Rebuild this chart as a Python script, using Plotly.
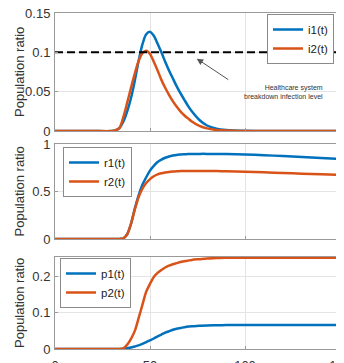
import plotly.graph_objects as go
from plotly.subplots import make_subplots

t = [0, 10, 20, 30, 32, 34, 36, 38, 40, 42, 44, 46, 48, 50, 52, 54, 56, 58, 60,
     62, 64, 66, 68, 70, 72, 76, 80, 85, 90, 100, 110, 120, 130, 140, 150]

i1 = [0, 0, 0, 0, 0.001, 0.004, 0.012, 0.025, 0.042, 0.064, 0.089, 0.110, 0.123, 0.126,
      0.121, 0.111, 0.100, 0.088, 0.077, 0.067, 0.057, 0.048, 0.040, 0.032, 0.025, 0.014,
      0.007, 0.003, 0.0013, 0.0002, 0, 0, 0, 0, 0]
i2 = [0, 0, 0, 0, 0.001, 0.004, 0.018, 0.036, 0.055, 0.073, 0.089, 0.099, 0.102, 0.098,
      0.088, 0.077, 0.065, 0.055, 0.046, 0.038, 0.031, 0.025, 0.020, 0.016, 0.012, 0.0065,
      0.0033, 0.0013, 0.0005, 0, 0, 0, 0, 0, 0]
r1 = [0, 0, 0, 0, 0, 0.001, 0.008, 0.05, 0.16, 0.32, 0.46, 0.57, 0.65, 0.72, 0.77, 0.81,
      0.835, 0.855, 0.868, 0.878, 0.885, 0.889, 0.892, 0.894, 0.895, 0.896, 0.896, 0.895,
      0.894, 0.889, 0.882, 0.873, 0.864, 0.853, 0.843]
r2 = [0, 0, 0, 0, 0, 0.001, 0.008, 0.05, 0.16, 0.31, 0.44, 0.53, 0.59, 0.63, 0.66, 0.68,
      0.692, 0.700, 0.706, 0.710, 0.713, 0.715, 0.716, 0.717, 0.717, 0.717, 0.716, 0.715,
      0.713, 0.708, 0.702, 0.695, 0.688, 0.681, 0.675]
p1 = [0, 0, 0, 0, 0, 0, 0.0005, 0.002, 0.004, 0.007, 0.010, 0.014, 0.019, 0.024, 0.029,
      0.035, 0.040, 0.045, 0.049, 0.053, 0.056, 0.058, 0.060, 0.062, 0.063, 0.064, 0.065,
      0.0655, 0.066, 0.066, 0.066, 0.066, 0.066, 0.066, 0.066]
p2 = [0, 0, 0, 0, 0, 0, 0.002, 0.012, 0.028, 0.050, 0.085, 0.122, 0.158, 0.180, 0.199,
      0.210, 0.218, 0.225, 0.230, 0.234, 0.237, 0.240, 0.242, 0.244, 0.246, 0.248, 0.250,
      0.251, 0.252, 0.252, 0.252, 0.252, 0.252, 0.252, 0.252]

threshold = 0.1
x_ticks = [0, 50, 100, 150]
y1_ticks = [0, 0.05, 0.1, 0.15]
y1_labels = ["0", "0.05", "0.1", "0.15"]
y2_ticks = [0, 0.5, 1]
y2_labels = ["0", "0.5", "1"]
y3_ticks = [0, 0.1, 0.2]
y3_labels = ["0", "0.1", "0.2"]

BLUE = "#0072BD"
ORANGE = "#D95319"
FONT = "Arial, Liberation Sans, sans-serif"

# page body has an 8px margin: lay out in window pixels, then shift by OFF
OFF = 8
W, H = 344 - OFF, 363 - OFF
L, R, T, B = 55 - OFF, 4, 13 - OFF, 14
ph = H - T - B
pw = W - L - R

def py(win_y):
    """window y pixel -> paper fraction"""
    return (H - B - (win_y - OFF)) / ph

def px(win_x):
    return ((win_x - OFF) - L) / pw

fig = make_subplots(rows=3, cols=1, shared_xaxes=False)

line_kw = dict(width=2.5, shape="spline", smoothing=0.8)
fig.add_trace(go.Scatter(x=t, y=i1, name="i1(t)", mode="lines",
                         line=dict(color=BLUE, **line_kw), legend="legend"), row=1, col=1)
fig.add_trace(go.Scatter(x=t, y=i2, name="i2(t)", mode="lines",
                         line=dict(color=ORANGE, **line_kw), legend="legend"), row=1, col=1)
fig.add_trace(go.Scatter(x=[x_ticks[0], x_ticks[-1]], y=[threshold, threshold], mode="lines",
                         line=dict(color="black", width=2, dash="8px,4px"), showlegend=False),
              row=1, col=1)
fig.add_trace(go.Scatter(x=t, y=r1, name="r1(t)", mode="lines",
                         line=dict(color=BLUE, **line_kw), legend="legend2"), row=2, col=1)
fig.add_trace(go.Scatter(x=t, y=r2, name="r2(t)", mode="lines",
                         line=dict(color=ORANGE, **line_kw), legend="legend2"), row=2, col=1)
fig.add_trace(go.Scatter(x=t, y=p1, name="p1(t)", mode="lines",
                         line=dict(color=BLUE, **line_kw), legend="legend3"), row=3, col=1)
fig.add_trace(go.Scatter(x=t, y=p2, name="p2(t)", mode="lines",
                         line=dict(color=ORANGE, **line_kw), legend="legend3"), row=3, col=1)

axis_common = dict(showline=True, linecolor="#9a9a9a", linewidth=1, mirror=True,
                   showgrid=True, gridcolor="#e4e4e4", gridwidth=1, zeroline=False,
                   ticks="inside", ticklen=3, tickcolor="#9a9a9a", automargin=False,
                   ticklabeloverflow="allow",
                   tickfont=dict(family=FONT, size=13, color="#333333"))

domains = [[py(131), py(13)], [py(239), py(144)], [py(349), py(257)]]
domains = [[max(0, a), min(1, b)] for a, b in domains]
yranges = [[0, 0.15], [0, 1], [0, 0.254]]
yticks = [(y1_ticks, y1_labels), (y2_ticks, y2_labels), (y3_ticks, y3_labels)]
for k in range(3):
    fig.update_xaxes(range=[0, 150], tickvals=x_ticks, showticklabels=(k == 2),
                     ticklabelstandoff=4, **axis_common, row=k + 1, col=1)
    fig.update_yaxes(domain=domains[k], range=yranges[k], tickvals=yticks[k][0],
                     ticktext=yticks[k][1], ticklabelstandoff=1, **axis_common,
                     row=k + 1, col=1)
fig.update_xaxes(domain=[0, 1])

# y-axis titles
for k in range(3):
    d = domains[k]
    fig.add_annotation(xref="paper", yref="paper", x=px(19),
                       y=(d[0] + d[1]) / 2, text="Population ratio", textangle=-90,
                       showarrow=False, xanchor="center", yanchor="middle",
                       font=dict(family=FONT, size=13, color="#333333"))

# annotation arrow + text
fig.add_annotation(x=74.6, y=0.092, ax=92, ay=0.064, xref="x", yref="y", axref="x",
                   ayref="y", text="", showarrow=True, arrowhead=2, arrowsize=1.3,
                   arrowwidth=1, arrowcolor="#555555")
fig.add_annotation(x=142, y=0.049, xref="x", yref="y",
                   text="Healthcare system<br>breakdown infection level",
                   showarrow=False, xanchor="right", yanchor="middle", align="right",
                   font=dict(family=FONT, size=7, color="#333333"))

leg_common = dict(bgcolor="white", bordercolor="#8a8a8a", borderwidth=1,
                  font=dict(family=FONT, size=11.5, color="#222222"),
                  tracegroupgap=0, itemwidth=30)
fig.update_layout(
    width=W, height=H,
    margin=dict(l=L, r=R, t=T, b=B),
    paper_bgcolor="white", plot_bgcolor="white",
    showlegend=True,
    legend=dict(x=px(334), y=py(14), xanchor="right", yanchor="top", **leg_common),
    legend2=dict(x=px(63), y=py(147), xanchor="left", yanchor="top", **leg_common),
    legend3=dict(x=px(60), y=py(258), xanchor="left", yanchor="top", **leg_common),
)

fig.write_html("out.html")
